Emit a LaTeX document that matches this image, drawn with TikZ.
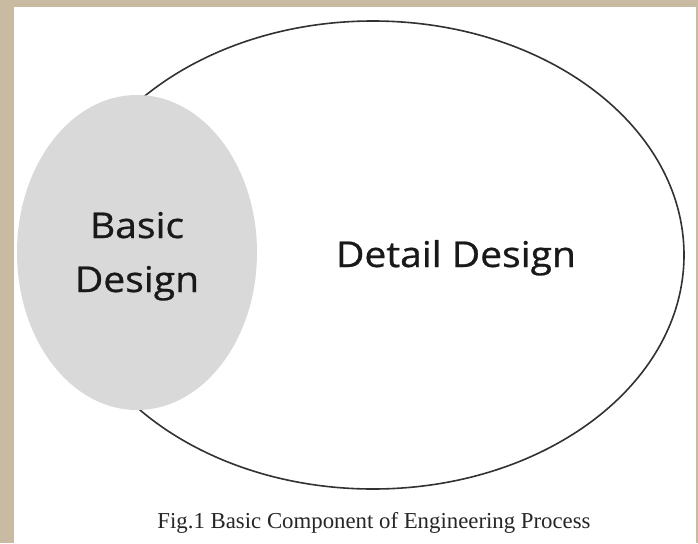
\documentclass[tikz,border=0pt]{standalone}
\usepackage{fontspec}
\setmainfont{Liberation Serif}
\newfontfamily\labelfont[FakeStretch=1.1,FakeBold=0.8]{Open Sans}
\usetikzlibrary{shapes.geometric}
\definecolor{pagebg}{RGB}{201,186,162}
\definecolor{rimline}{RGB}{50,50,50}
\definecolor{basicfill}{RGB}{217,217,217}
\tikzset{
  phase/.style={ellipse, inner sep=0pt, line width=1.6pt},
  phaselabel/.style={font=\labelfont\fontsize{35.5}{54}\selectfont, inner sep=0pt, align=center, text=black!90},
  caption/.style={font=\fontsize{22.8}{26}\selectfont, inner sep=0pt, text=black!85}
}
\begin{document}
\begin{tikzpicture}[x=1pt, y=-1pt]
  % page frame and white sheet
  \fill[pagebg] (0,0) rectangle (698,543);
  \useasboundingbox (0,0) rectangle (698,543);
  \fill[white] (14,7) rectangle (696,543);
  % outer phase
  \node[phase, draw=rimline, minimum width=622pt, minimum height=468pt] (detail) at (373,255) {};
  % inner phase, covering the left part of the outer one
  \node[phase, fill=basicfill, minimum width=240pt, minimum height=315pt] (basic) at (137,252.5) {};
  % labels (the base anchor of a two-line node sits on its last line)
  \node[phaselabel, anchor=base] (basictext) at (137,292) {Basic\\Design};
  \node[phaselabel, anchor=base] (detailtext) at (456,267) {Detail Design};
  \node[caption, anchor=base] (figcap) at (374,528) {Fig.1 Basic Component of Engineering Process};
\end{tikzpicture}
\end{document}
